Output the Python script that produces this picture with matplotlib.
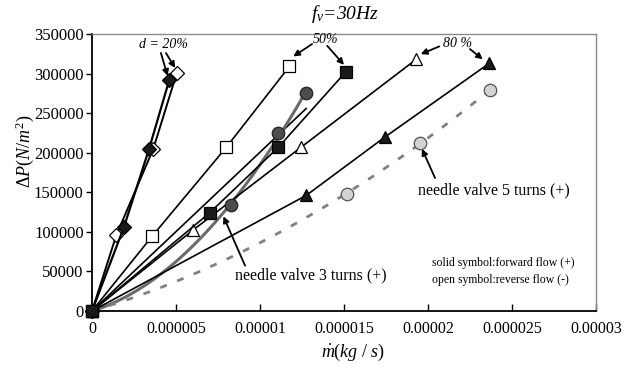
import numpy as np
import matplotlib

matplotlib.use("Agg")
import matplotlib.pyplot as plt

plt.rcParams["font.family"] = ["Liberation Serif", "DejaVu Serif"]
plt.rcParams["mathtext.fontset"] = "custom"
plt.rcParams["mathtext.rm"] = "Liberation Serif"
plt.rcParams["mathtext.it"] = "Liberation Serif:italic"

# opening d = 20 %
fwd20_x = [0, 1.9e-6, 3.4e-6, 4.6e-6]
fwd20_y = [0, 106000, 205000, 292000]
rev20_x = [0, 1.45e-6, 3.65e-6, 5.05e-6]
rev20_y = [0, 96000, 205000, 301000]
# opening d = 50 %
fwd50_x = [0, 7.0e-6, 11.1e-6, 15.1e-6]
fwd50_y = [0, 124000, 207000, 302000]
rev50_x = [0, 3.6e-6, 8.0e-6, 11.75e-6]
rev50_y = [0, 95000, 207000, 309000]
# opening d = 80 %
fwd80_x = [0, 12.75e-6, 17.45e-6, 23.65e-6]
fwd80_y = [0, 146000, 220000, 313000]
rev80_x = [0, 6.0e-6, 12.45e-6, 19.3e-6]
rev80_y = [0, 102000, 207000, 318000]
# needle valves
nv3_x = [8.3e-6, 11.1e-6, 12.75e-6]
nv3_y = [134000, 225000, 275000]
nv5_x = [15.15e-6, 19.5e-6, 23.7e-6]
nv5_y = [148000, 212000, 279000]

x_ticks = [0, 5e-6, 1e-5, 1.5e-5, 2e-5, 2.5e-5, 3e-5]
x_ticklabels = ["0", "0.000005", "0.00001", "0.000015", "0.00002", "0.000025", "0.00003"]
y_ticks = [0, 50000, 100000, 150000, 200000, 250000, 300000, 350000]
y_ticklabels = [str(v) for v in y_ticks]


def fit_through_origin(x, y, quadratic):
    x = np.asarray(x)
    cols = [x, x * x] if quadratic else [x]
    coef = np.linalg.lstsq(np.column_stack(cols), np.asarray(y, dtype=float), rcond=None)[0]
    xs = np.linspace(0, x.max(), 200)
    ys = coef[0] * xs + (coef[1] * xs * xs if quadratic else 0)
    return xs, ys


fig = plt.figure(figsize=(6.39, 3.67), dpi=100)
ax = fig.add_axes([0.1440, 0.1526, 0.7887, 0.7548])

# trend lines of the needle valves
xs, ys = fit_through_origin(nv3_x, nv3_y, quadratic=False)
ax.plot(xs, ys, color="black", lw=1.2, zorder=2)
xs, ys = fit_through_origin(nv3_x, nv3_y, quadratic=True)
ax.plot(xs, ys, color="#6a6a6a", lw=2.2, zorder=2)
xs, ys = fit_through_origin(nv5_x, nv5_y, quadratic=True)
ax.plot(xs, ys, color="#808080", lw=2.0, dashes=(2.5, 4), zorder=2)

open_kw = dict(color="black", mfc="white", mec="black", mew=0.9, clip_on=False, zorder=3)
solid_kw = dict(color="black", mfc="#1a1a1a", mec="black", mew=0.9, clip_on=False, zorder=4)
ax.plot(rev20_x, rev20_y, marker="D", ms=7, lw=1.4, **open_kw)
ax.plot(rev50_x, rev50_y, marker="s", ms=8, lw=1.2, **open_kw)
ax.plot(rev80_x, rev80_y, marker="^", ms=9, lw=1.2, **open_kw)
ax.plot(fwd20_x, fwd20_y, marker="D", ms=7, lw=1.6, **solid_kw)
ax.plot(fwd80_x, fwd80_y, marker="^", ms=9, lw=1.2, **solid_kw)
ax.plot(fwd50_x, fwd50_y, marker="s", ms=8, lw=1.2, **solid_kw)

ax.plot(nv3_x, nv3_y, ls="none", marker="o", ms=9, mfc="#4d4d4d", mec="#222222", mew=0.9, zorder=5)
ax.plot(nv5_x, nv5_y, ls="none", marker="o", ms=9, mfc="#d2d2d2", mec="#555555", mew=0.9, zorder=5)

ax.set_xlim(0, 3e-5)
ax.set_ylim(0, 350000)
ax.set_xticks(x_ticks)
ax.set_xticklabels(x_ticklabels)
ax.set_yticks(y_ticks)
ax.set_yticklabels(y_ticklabels)
ax.tick_params(axis="x", direction="in", length=5, width=1, labelsize=11.5, pad=7)
ax.tick_params(axis="y", direction="out", length=4, width=1, labelsize=12, pad=2)
for side in ("left", "bottom"):
    ax.spines[side].set_linewidth(1.3)
for side in ("top", "right"):
    ax.spines[side].set_color("#8a8a8a")
    ax.spines[side].set_linewidth(1.0)

arrow = dict(arrowstyle="-|>", color="black", lw=1.3, mutation_scale=9, shrinkA=0, shrinkB=0)
ax.text(4.23e-6, 337300, "d = 20%", fontsize=10, style="italic", ha="center", va="center")
ax.annotate("", xy=(4.5e-6, 297000), xytext=(4.1e-6, 326000), arrowprops=arrow)
ax.annotate("", xy=(4.95e-6, 307000), xytext=(4.4e-6, 326000), arrowprops=arrow)
ax.text(13.93e-6, 342400, "50%", fontsize=10, style="italic", ha="center", va="center")
ax.annotate("", xy=(11.98e-6, 321600), xytext=(13.1e-6, 337300), arrowprops=arrow)
ax.annotate("", xy=(15.0e-6, 311000), xytext=(14.0e-6, 335100), arrowprops=arrow)
ax.text(21.73e-6, 338500, "80 %", fontsize=10, style="italic", ha="center", va="center")
ax.annotate("", xy=(19.57e-6, 324500), xytext=(20.67e-6, 334300), arrowprops=arrow)
ax.annotate("", xy=(23.26e-6, 318000), xytext=(22.5e-6, 330900), arrowprops=arrow)

ax.text(8.51e-6, 44500, "needle valve 3 turns (+)", fontsize=11.5, ha="left", va="center")
ax.annotate("", xy=(7.82e-6, 119600), xytext=(9.11e-6, 57300), arrowprops=arrow)
ax.text(19.4e-6, 152700, "needle valve 5 turns (+)", fontsize=11.5, ha="left", va="center")
ax.annotate("", xy=(19.64e-6, 204900), xytext=(20.42e-6, 168000), arrowprops=arrow)

ax.text(20.24e-6, 60200, "solid symbol:forward flow (+)", fontsize=8.5, ha="left", va="center")
ax.text(20.24e-6, 39100, "open symbol:reverse flow (-)", fontsize=8.5, ha="left", va="center")

fig.text(345 / 639, 1 - 14 / 367, r"$f_v$=30Hz", fontsize=14, style="italic", ha="center", va="center")
fig.text(25 / 639, 1 - 151 / 367, r"$\Delta P(N/m^2)$", fontsize=13, rotation=90, ha="center", va="center")
fig.text(353 / 639, 1 - 352 / 367, r"$\dot{m}(kg\ /\ s)$", fontsize=13, ha="center", va="center")

fig.savefig("out.png", dpi=100, facecolor="white")
